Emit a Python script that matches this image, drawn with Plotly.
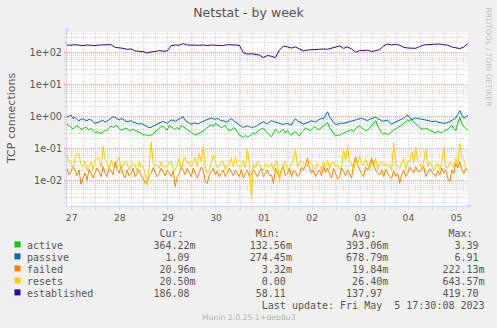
import plotly.graph_objects as go
import pandas as pd

# ---------------- data ----------------
times_hourly = pd.date_range("2023-04-27 09:40", periods=201, freq="h")
times_2h = pd.date_range("2023-04-27 09:40", periods=101, freq="2h")

active = [.574,.52,.453,.40,.473,.50,.453,.40,.393,.46,
          .431,.38,.422,.36,.308,.33,.308,.29,.323,.36,
          .373,.42,.497,.45,.473,.52,.410,.37,.393,.43,
          .410,.36,.373,.40,.355,.33,.323,.30,.255,.27,
          .242,.26,.255,.29,.340,.38,.422,.48,.473,.42,
          .373,.50,.453,.41,.393,.45,.393,.52,.473,.41,
          .373,.34,.308,.29,.260,.28,.294,.33,.340,.40,
          .453,.50,.546,.48,.604,.55,.497,.44,.473,.52,
          .410,.36,.373,.44,.410,.33,.260,.24,.221,.25,
          .230,.24,.266,.30,.294,.34,.373,.41,.431,.35,
          .294,.26,.230,.30,.393,.34,.308,.36,.393,.30,
          .355,.29,.255,.31,.330,.28,.242,.31,.355,.44,
          .393,.36,.393,.45,.463,.40,.393,.44,.473,.55,
          .631,.45,.373,.30,.242,.26,.255,.28,.294,.32,
          .340,.36,.381,.33,.422,.47,.508,.44,.401,.36,
          .373,.45,.535,.60,.729,.50,.373,.31,.274,.30,
          .266,.29,.323,.37,.401,.44,.473,.53,.604,.68,
          .766,.70,.841,.66,.604,.52,.440,.41,.393,.43,
          .410,.37,.340,.31,.301,.34,.316,.30,.347,.37,
          .393,.46,.523,.42,.355,.62,.930,.60,.473,.42,
          .364]

passive = [.93,1.0,1.10,.85,.93,.80,.73,.80,.84,.76,
           .73,.80,.77,.68,.60,.64,.66,.72,.73,.66,
           .70,.78,.87,.98,.93,.82,.77,.85,.81,.72,
           .68,.70,.73,.66,.63,.60,.57,.60,.55,.50,
           .47,.44,.45,.49,.52,.56,.60,.66,.70,.64,
           .60,.68,.77,.74,.70,.76,.81,.90,.97,.75,
           .66,.60,.57,.61,.63,.58,.60,.66,.70,.76,
           .81,.86,.89,.84,.81,.86,.77,.72,.73,.70,
           .66,.76,.84,.74,.66,.58,.52,.48,.45,.48,
           .50,.47,.45,.46,.47,.52,.57,.62,.68,.62,
           .57,.66,.73,.69,.66,.63,.60,.57,.55,.59,
           .60,.56,.535,.70,.84,.72,.66,.60,.57,.60,
           .63,.68,.73,.69,.66,.74,.81,.86,.84,1.05,
           1.39,.95,.77,.64,.57,.56,.59,.62,.60,.62,
           .65,.68,.70,.74,.77,.80,.84,.88,.82,.76,
           .73,.80,.84,.92,.95,.84,.77,.73,.70,.74,
           .77,.64,.57,.62,.66,.70,.73,.80,.87,1.0,
           1.10,.90,.77,.84,.89,.86,.84,.80,.77,.76,
           .75,.72,.68,.70,.71,.66,.63,.62,.60,.62,
           .63,.68,.73,.80,.89,1.15,1.50,1.1,.87,.96,
           1.09]

failed = [.0237,.015,.0186,.026,.021,.014,.021,.0075,.0116,.017,
          .0102,.022,.0166,.012,.0175,.024,.0186,.013,.0266,.017,
          .013,.024,.021,.015,.0381,.022,.0166,.028,.0147,.012,
          .021,.014,.0166,.024,.013,.017,.021,.014,.0116,.008,
          .009,.014,.0166,.025,.0186,.013,.0166,.024,.0186,.014,
          .021,.017,.013,.02,.0063,.013,.0166,.027,.021,.015,
          .0237,.018,.013,.024,.0166,.012,.0175,.026,.021,.009,
          .0081,.015,.0186,.024,.0147,.02,.013,.017,.021,.013,
          .0166,.024,.0186,.014,.021,.017,.013,.022,.0116,.016,
          .021,.013,.0147,.022,.0166,.013,.0186,.024,.013,.017,
          .021,.014,.0147,.008,.0237,.017,.013,.021,.0266,.014,
          .0166,.024,.013,.02,.0186,.013,.0147,.026,.021,.03,
          .0487,.024,.0166,.021,.013,.017,.021,.014,.0266,.018,
          .0237,.016,.0116,.024,.0166,.011,.013,.024,.0186,.014,
          .021,.016,.0116,.03,.0546,.03,.021,.016,.013,.026,
          .021,.032,.0487,.03,.021,.017,.0147,.021,.013,.022,
          .0166,.013,.0116,.02,.013,.017,.0081,.015,.021,.013,
          .0166,.026,.021,.017,.0266,.019,.0186,.022,.0266,.013,
          .0166,.023,.0186,.015,.013,.02,.0147,.024,.0166,.021,
          .0116,.009,.021,.016,.034,.024,.0381,.022,.0166,.024,
          .021]

resets = [.0618,.036,.034,.022,.0487,.07,.066,.03,.0266,.04,
          .021,.026,.0381,.021,.0431,.048,.0487,.026,.112,.044,
          .0381,.022,.0431,.028,.0266,.036,.0546,.022,.0301,.04,
          .034,.021,.0301,.034,.0301,.019,.0381,.026,.0266,.016,
          .0071,.026,.161,.034,.0266,.03,.0237,.038,.0266,.026,
          .0266,.038,.0381,.022,.021,.03,.0487,.021,.0431,.052,
          .034,.038,.0266,.034,.052,.026,.0698,.038,.118,.026,
          .0166,.021,.034,.062,.0381,.024,.0266,.038,.0381,.021,
          .0301,.032,.0487,.026,.0546,.03,.0266,.026,.0431,.024,
          .100,.03,.0027,.034,.0237,.038,.034,.024,.021,.034,
          .0266,.026,.034,.021,.0381,.038,.009,.022,.034,.038,
          .022,.024,.034,.042,.095,.026,.0381,.038,.034,.034,
          .0266,.038,.034,.024,.022,.034,.0301,.021,.0381,.026,
          .0431,.022,.034,.038,.0266,.03,.021,.026,.085,.042,
          .112,.038,.034,.021,.0431,.03,.0574,.034,.0301,.046,
          .0301,.021,.0381,.026,.0487,.022,.034,.038,.028,.034,
          .0266,.03,.021,.15,.034,.026,.0237,.034,.0487,.022,
          .0381,.038,.078,.034,.108,.038,.034,.024,.0381,.1,
          .0266,.038,.0301,.02,.0266,.034,.021,.038,.108,.026,
          .0237,.038,.034,.024,.0487,.03,.143,.05,.0431,.024,
          .0205]

established = [169,166,173,166,162,169,166,162,169,169,
               178,173,143,140,133,124,127,110,108,105,
               95,103,105,113,108,110,162,169,166,186,
               169,166,169,166,169,162,169,169,169,162,
               173,173,169,166,97,88,90,84,82,68,
               80,75,68,118,154,147,136,147,130,110,
               118,121,124,121,127,124,133,143,158,133,
               147,127,100,113,116,116,105,113,121,158,
               182,169,178,166,143,136,133,133,151,169,
               173,178,182,182,173,166,147,140,130,147,
               186]

series_names = ["active", "passive", "failed", "resets", "established"]
series_colors = ["#00CC00", "#0066B3", "#FF8000", "#FFCC00", "#330099"]
series_values = [active, passive, failed, resets, established]
series_times = [times_hourly, times_hourly, times_hourly, times_hourly, times_2h]

stat_cur = ["364.22m", "1.09 ", "20.96m", "20.50m", "186.08 "]
stat_min = ["132.56m", "274.45m", "3.32m", "0.00 ", "58.11 "]
stat_avg = ["393.06m", "678.79m", "19.84m", "26.40m", "137.97 "]
stat_max = ["3.39 ", "6.91 ", "222.13m", "643.57m", "419.70 "]

day_labels = ["27", "28", "29", "30", "01", "02", "03", "04", "05"]
label_days = pd.date_range("2023-04-27 12:00", periods=9, freq="D")
midnights = pd.date_range("2023-04-28 00:00", periods=8, freq="D")
y_tickvals = [0.01, 0.1, 1, 10, 100]
y_ticktext = ["1e-02", "1e-01", "1e+00", "1e+01", "1e+02"]

title_text = "Netstat - by week"
y_title = "TCP connections"
last_update = "Last update: Fri May  5 17:30:08 2023"
version_text = "Munin 2.0.25-1+deb8u3"
side_text = "RRDTOOL / TOBI OETIKER"

# ---------------- layout geometry ----------------
W, H = 497, 328
L, R, T, B = 67, 29, 32, 122
PW, PH = W - L - R, H - T - B

def pxx(x):
    return (x - L) / PW

def pyy(y):
    return (H - B - y) / PH

FONT = "#555555"
MGRID = "#F4A6A6"
GRID = "#D8D8D8"
AXIS = "#CFD6F8"
NB = "\u00a0"

fig = go.Figure()
for name, col, vals, tt in zip(series_names, series_colors, series_values, series_times):
    fig.add_trace(go.Scatter(x=tt, y=vals, mode="lines", name=name,
                             line=dict(color=col, width=1), showlegend=False,
                             hoverinfo="skip"))

shapes = []
for m in midnights:
    shapes.append(dict(type="line", xref="x", yref="paper", x0=m, x1=m,
                       y0=-3 / PH, y1=1, layer="between",
                       line=dict(color=MGRID, width=1, dash="1px,1px")))

annotations = []
annotations.append(dict(text=y_title, xref="paper", yref="paper", x=pxx(11), y=0.5,
                        textangle=-90, showarrow=False, xanchor="center", yanchor="middle",
                        font=dict(family="DejaVu Sans", size=11, color=FONT)))
annotations.append(dict(text=side_text, xref="paper", yref="paper", x=pxx(488.5), y=pyy(57),
                        textangle=90, showarrow=False, xanchor="center", yanchor="middle",
                        font=dict(family="DejaVu Sans", size=7.7, color="#C4C4C4")))
annotations.append(dict(text="", xref="paper", yref="paper", x=0, y=pyy(26.5), ax=0, ay=9,
                        showarrow=True, arrowhead=2, arrowsize=1, arrowwidth=1,
                        arrowcolor=AXIS, standoff=0))
annotations.append(dict(text="", xref="paper", yref="paper", x=pxx(472.5), y=0, ax=-9, ay=0,
                        showarrow=True, arrowhead=2, arrowsize=1, arrowwidth=1,
                        arrowcolor=AXIS, standoff=0))

mono = dict(family="DejaVu Sans Mono", size=10, color=FONT)
text_x = pxx(26.2)
header = NB * 22 + "Cur:" + NB * 12 + "Min:" + NB * 12 + "Avg:" + NB * 12 + "Max:"
annotations.append(dict(text=header, xref="paper", yref="paper", x=text_x, y=pyy(233.5),
                        showarrow=False, xanchor="left", yanchor="middle", font=mono, borderpad=0))
row_y0 = 245.6
for k, name in enumerate(series_names):
    ry = row_y0 + 12 * k
    row = (name.ljust(21) + stat_cur[k].rjust(7) + stat_min[k].rjust(16)
           + stat_avg[k].rjust(16) + stat_max[k].rjust(16)).replace(" ", NB)
    annotations.append(dict(text=row, xref="paper", yref="paper", x=text_x, y=pyy(ry),
                            showarrow=False, xanchor="left", yanchor="middle", font=mono,
                            borderpad=0))
    shapes.append(dict(type="rect", xref="paper", yref="paper",
                       x0=pxx(14.5), x1=pxx(20.5), y0=pyy(ry + 1.8), y1=pyy(ry - 4.2),
                       fillcolor=series_colors[k], line=dict(width=0)))
annotations.append(dict(text=(NB * 39 + last_update).replace(" ", NB), xref="paper", yref="paper",
                        x=text_x, y=pyy(row_y0 + 60), showarrow=False, xanchor="left",
                        yanchor="middle", font=mono, borderpad=0))
annotations.append(dict(text=version_text, xref="paper", yref="paper", x=pxx(248.5), y=pyy(317.5),
                        showarrow=False, xanchor="center", yanchor="middle",
                        font=dict(family="DejaVu Sans", size=7.7, color="#B4B4B4")))

fig.update_layout(
    width=W, height=H,
    margin=dict(l=L, r=R, t=T, b=B, pad=0),
    paper_bgcolor="#F0F0F0", plot_bgcolor="#FFFFFF",
    title=dict(text=title_text, x=0.5, xref="container", xanchor="center",
               y=1 - 12.5 / H, yref="container", yanchor="middle",
               font=dict(family="DejaVu Sans", size=12.5, color=FONT)),
    xaxis=dict(type="date", range=["2023-04-27 09:40", "2023-05-05 17:45"],
               tickmode="array", tickvals=label_days, ticktext=day_labels,
               showgrid=True, gridcolor=GRID, griddash="1px,1px", gridwidth=1,
               ticks="outside", ticklen=3, tickcolor=GRID,
               tickfont=dict(family="DejaVu Sans", size=9.2, color=FONT),
               showline=True, linecolor=AXIS, linewidth=1, zeroline=False,
               minor=dict(tick0="2023-04-27 00:00", dtick=6 * 3600 * 1000,
                          showgrid=True, gridcolor=GRID, griddash="1px,1px",
                          ticks="outside", ticklen=3, tickcolor=GRID)),
    yaxis=dict(type="log", range=[-2.803, 2.634],
               tickmode="array", tickvals=y_tickvals, ticktext=y_ticktext,
               showgrid=True, gridcolor=MGRID, griddash="1px,1px", gridwidth=1,
               ticks="outside", ticklen=2, tickcolor=MGRID,
               tickfont=dict(family="DejaVu Sans", size=9.7, color=FONT),
               showline=True, linecolor=AXIS, linewidth=1, zeroline=False,
               minor=dict(dtick="D1", showgrid=True, gridcolor=GRID,
                          griddash="1px,1px", ticks="outside", ticklen=2,
                          tickcolor=GRID)),
    shapes=shapes,
    annotations=annotations,
    showlegend=False,
)

fig.write_html("out.html")
